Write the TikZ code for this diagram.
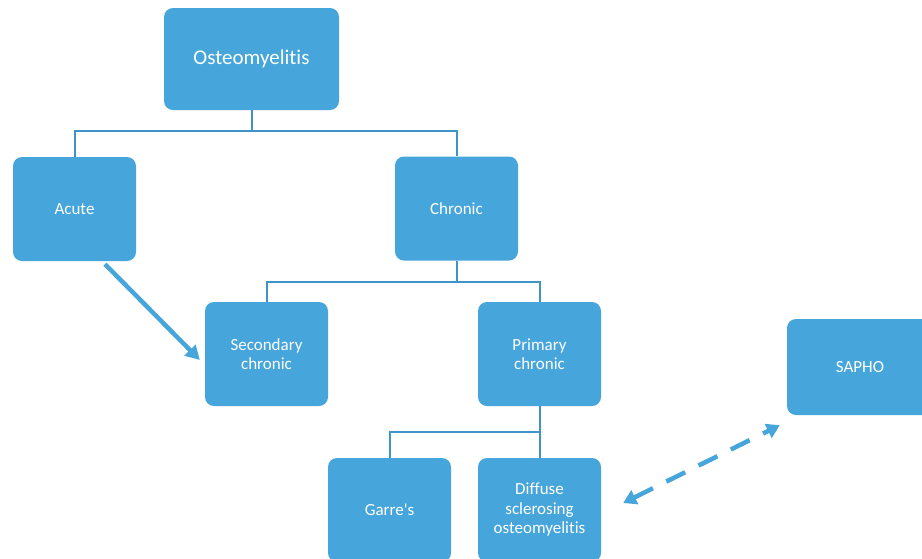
\documentclass[tikz,border=0pt]{standalone}
\usepackage{fontspec}
\setmainfont{Carlito}[Ligatures={TeXOff,NoCommon}]
\usetikzlibrary{arrows.meta}
\definecolor{boxblue}{HTML}{46A5DB}
\definecolor{linkblue}{HTML}{3E93C8}
\begin{document}
\begin{tikzpicture}[x=1pt,y=-1pt,
  box/.style={fill=boxblue, rounded corners=9pt, text=white, align=center,
    font=\fontsize{17}{19.5}\selectfont, minimum width=123pt, minimum height=104pt, inner sep=0pt},
  link/.style={draw=linkblue, line width=2pt},
  bigarrow/.style={draw=boxblue, line width=4.5pt, -{Triangle[length=14pt,width=15pt]}},
  dasharrow/.style={draw=boxblue, line width=4.5pt, dash pattern=on 21pt off 15pt,
    {Triangle[length=13pt,width=15pt]}-{Triangle[length=13pt,width=15pt]}}]
\clip (0,0) rectangle (922,558);
\fill[white] (0,0) rectangle (922,558);
\node[box, font=\fontsize{21}{24}\selectfont, minimum width=175pt, minimum height=102pt] (osteo) at (251.5,59) {Osteomyelitis};
\node[box] (acute) at (74.5,209) {Acute};
\node[box] (chronic) at (456.5,208.5) {Chronic};
\node[box] (sec) at (266.5,354) {Secondary\\chronic};
\node[box] (prim) at (539.5,354) {Primary\\chronic};
\node[box, minimum width=146pt, minimum height=96pt] (sapho) at (860,367) {SAPHO};
\node[box] (garre) at (389.5,510) {Garre's};
\node[box] (diff) at (539.5,510) {Diffuse\\sclerosing\\osteomyelitis};
\draw[link] (osteo.south) -- ++(0,21) -| (acute.north);
\draw[link] (osteo.south) -- ++(0,21) -| (chronic.north);
\draw[link] (chronic.south) -- ++(0,21) -| (sec.north);
\draw[link] (chronic.south) -- ++(0,21) -| (prim.north);
\draw[link] (prim.south) -- ++(0,26) -| (garre.north);
\draw[link] (prim.south) -- (diff.north);
\coordinate (a1) at ([shift={(30.5,3)}]acute.south);
\coordinate (a2) at ([shift={(-5,6)}]sec.west);
\draw[bigarrow] (a1) -- (a2);
\coordinate (d1) at ([shift={(22,-7)}]diff.east);
\coordinate (d2) at ([shift={(-7,10)}]sapho.south west);
\draw[dasharrow] (d1) -- (d2);
\end{tikzpicture}
\end{document}
